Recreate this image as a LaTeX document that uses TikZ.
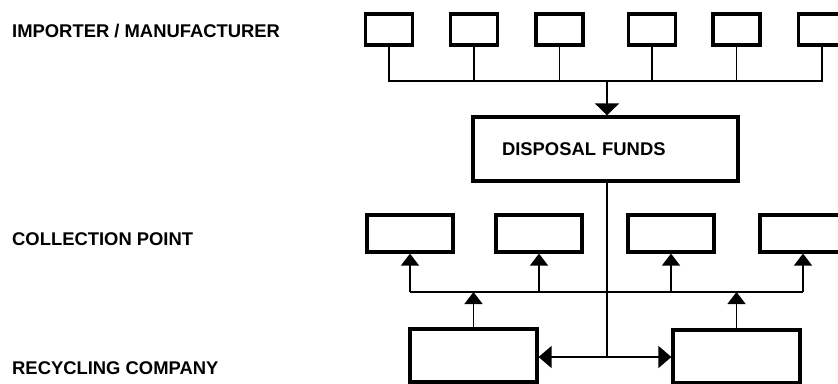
\documentclass[tikz,border=0pt]{standalone}
\usepackage{fontspec}
\setmainfont{Liberation Sans}
\usetikzlibrary{arrows.meta}

\begin{document}
\begin{tikzpicture}[x=1pt,y=-1pt,
  box/.style={draw,line width=3.2pt,inner sep=0pt},
  wire/.style={line width=1.3pt},
  tip/.style={-{Triangle[length=12pt,width=18pt]}},
  lbl/.style={anchor=west,inner sep=0pt,font=\fontsize{18.4}{20}\selectfont\bfseries}]
  \useasboundingbox (0,0) rectangle (838,383);
  \clip (0,0) rectangle (838,383);
  % row labels
  \node[lbl] (limp) at (12,31) {IMPORTER / MANUFACTURER};
  \node[lbl] (lcol) at (12,239) {COLLECTION POINT};
  \node[lbl] (lrec) at (12,368) {RECYCLING COMPANY};
  % importers
  \foreach \i/\x in {1/389,2/474,3/559.5,4/652,5/736.5,6/822}
    \node[box,minimum width=47pt,minimum height=31pt] (imp\i) at (\x,29.5) {};
  \coordinate (ibus) at (607,81);
  \draw[wire] (imp1.south) -- (imp1.south |- ibus) -- (imp6.south |- ibus) -- (imp6.south);
  \foreach \i in {2,...,5}
    \draw[wire] (imp\i.south) -- (imp\i.south |- ibus);
  % fund
  \node[box,minimum height=64pt,text width=207pt,inner xsep=29pt,align=left,
    font=\fontsize{18.4}{20}\selectfont\bfseries] (fund) at (605.5,149) {DISPOSAL FUNDS};
  \draw[wire,-{Triangle[length=12pt,width=24pt]}] (ibus) -- (ibus |- fund.north);
  % collection points
  \foreach \i/\x in {1/410,2/539,3/671,4/803}
    \node[box,minimum width=86pt,minimum height=37pt] (col\i) at (\x,233.5) {};
  \coordinate (cbus) at (607,292);
  \draw[wire] (col1.south |- cbus) -- (col4.south |- cbus);
  \foreach \i in {1,...,4}
    \draw[wire,tip] (col\i.south |- cbus) -- (col\i.south);
  % recycling companies
  \node[box,minimum width=127pt,minimum height=53pt] (rec1) at (473.5,355.5) {};
  \node[box,minimum width=127pt,minimum height=53pt] (rec2) at (736.5,356.5) {};
  \draw[wire,tip] (rec1.north) -- (rec1.north |- cbus);
  \draw[wire,tip] (rec2.north) -- (rec2.north |- cbus);
  \coordinate (split) at (607,357);
  \draw[wire] (fund.south -| split) -- (split);
  \draw[wire,{Triangle[length=13pt,width=22pt]}-{Triangle[length=13pt,width=22pt]}]
    (rec1.east |- split) -- (rec2.west |- split);
\end{tikzpicture}
\end{document}
